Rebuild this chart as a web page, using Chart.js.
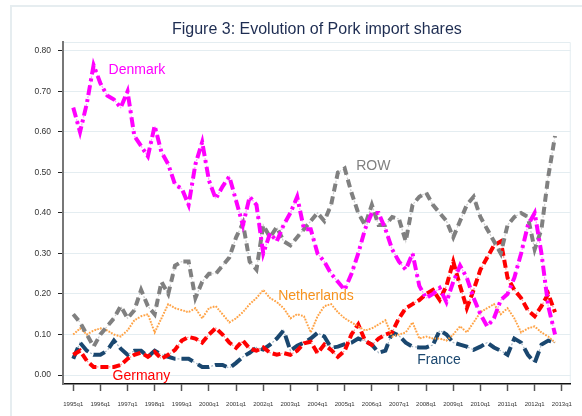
<!DOCTYPE html>
<html>
<head>
<meta charset="utf-8">
<script src="https://cdn.jsdelivr.net/npm/chart.js@4"></script>
<style>
  html, body { margin: 0; padding: 0; background: #ffffff; }
  canvas { display: block; }
</style>
</head>
<body>
<canvas id="pork-chart" width="582" height="416"></canvas>
<script>
// Tick labels (one per year, first quarter)
const yearTicks = ['1995q1', '1996q1', '1997q1', '1998q1', '1999q1', '2000q1', '2001q1',
  '2002q1', '2003q1', '2004q1', '2005q1', '2006q1', '2007q1', '2008q1', '2009q1',
  '2010q1', '2011q1', '2012q1', '2013q1'];
const yTicks = [0, 0.1, 0.2, 0.3, 0.4, 0.5, 0.6, 0.7, 0.8];

// Quarterly import shares, 1995q1 .. 2012q4
const denmark = [0.66, 0.60, 0.67, 0.765, 0.72, 0.69, 0.68, 0.66, 0.70, 0.59, 0.565, 0.54,
  0.615, 0.55, 0.52, 0.47, 0.46, 0.42, 0.52, 0.575, 0.48, 0.435, 0.465, 0.49,
  0.43, 0.37, 0.44, 0.42, 0.30, 0.35, 0.33, 0.37, 0.40, 0.44, 0.36, 0.36,
  0.30, 0.28, 0.25, 0.23, 0.21, 0.25, 0.30, 0.36, 0.40, 0.40, 0.36, 0.31,
  0.28, 0.26, 0.30, 0.22, 0.19, 0.20, 0.215, 0.18, 0.23, 0.27, 0.24, 0.19,
  0.15, 0.12, 0.14, 0.185, 0.20, 0.24, 0.30, 0.37, 0.40, 0.30, 0.17, 0.10];
const row = [0.15, 0.13, 0.10, 0.07, 0.10, 0.12, 0.14, 0.17, 0.14, 0.16, 0.21, 0.17,
  0.15, 0.23, 0.20, 0.27, 0.28, 0.28, 0.19, 0.23, 0.25, 0.25, 0.27, 0.29,
  0.34, 0.375, 0.28, 0.26, 0.37, 0.34, 0.365, 0.33, 0.32, 0.34, 0.36, 0.38,
  0.40, 0.38, 0.42, 0.50, 0.51, 0.45, 0.40, 0.37, 0.42, 0.37, 0.37, 0.39,
  0.385, 0.33, 0.42, 0.44, 0.45, 0.42, 0.40, 0.38, 0.34, 0.38, 0.42, 0.44,
  0.39, 0.36, 0.33, 0.30, 0.37, 0.39, 0.40, 0.39, 0.31, 0.36, 0.49, 0.59];
const netherlands = [0.10, 0.115, 0.10, 0.11, 0.115, 0.11, 0.10, 0.095, 0.11, 0.135, 0.145, 0.15,
  0.105, 0.14, 0.175, 0.165, 0.16, 0.155, 0.165, 0.14, 0.165, 0.17, 0.15, 0.13,
  0.14, 0.155, 0.175, 0.19, 0.21, 0.19, 0.18, 0.165, 0.14, 0.15, 0.145, 0.105,
  0.145, 0.17, 0.175, 0.155, 0.14, 0.13, 0.12, 0.11, 0.115, 0.125, 0.135, 0.095,
  0.10, 0.105, 0.13, 0.09, 0.095, 0.09, 0.09, 0.085, 0.10, 0.12, 0.105, 0.13,
  0.155, 0.165, 0.175, 0.15, 0.165, 0.14, 0.105, 0.115, 0.12, 0.105, 0.095, 0.08];
const germany = [0.05, 0.06, 0.035, 0.02, 0.02, 0.02, 0.02, 0.025, 0.04, 0.05, 0.055, 0.045,
  0.057, 0.04, 0.05, 0.062, 0.085, 0.094, 0.09, 0.08, 0.10, 0.116, 0.10, 0.08,
  0.067, 0.085, 0.065, 0.06, 0.068, 0.055, 0.05, 0.054, 0.05, 0.06, 0.078, 0.082,
  0.054, 0.075, 0.062, 0.045, 0.06, 0.10, 0.125, 0.085, 0.074, 0.09, 0.10, 0.106,
  0.14, 0.165, 0.175, 0.185, 0.20, 0.21, 0.185, 0.22, 0.28, 0.22, 0.165, 0.21,
  0.26, 0.29, 0.32, 0.33, 0.24, 0.21, 0.19, 0.16, 0.145, 0.17, 0.20, 0.155];
const france = [0.04, 0.08, 0.06, 0.05, 0.05, 0.06, 0.085, 0.065, 0.05, 0.06, 0.06, 0.045,
  0.06, 0.05, 0.045, 0.04, 0.04, 0.04, 0.03, 0.02, 0.02, 0.025, 0.025, 0.017,
  0.03, 0.045, 0.055, 0.068, 0.063, 0.075, 0.09, 0.11, 0.06, 0.072, 0.08, 0.09,
  0.104, 0.095, 0.067, 0.07, 0.076, 0.08, 0.09, 0.084, 0.075, 0.055, 0.06, 0.105,
  0.097, 0.08, 0.07, 0.068, 0.068, 0.074, 0.11, 0.10, 0.08, 0.075, 0.07, 0.062,
  0.07, 0.08, 0.068, 0.06, 0.05, 0.09, 0.08, 0.05, 0.03, 0.075, 0.085, 0.08];

const series = [
  { name: 'Denmark', values: denmark, color: '#ff00ff', width: 4, dash: [10, 4, 3, 4], at: [5.2, 0.753] },
  { name: 'ROW', values: row, color: '#808080', width: 4, dash: [8, 5], at: [41.7, 0.516] },
  { name: 'Netherlands', values: netherlands, color: '#ffa040', width: 2, dash: [1.5, 1.5], at: [30.2, 0.195], labelColor: '#f7931e' },
  { name: 'Germany', values: germany, color: '#ff0000', width: 4, dash: [8, 4], at: [5.8, -0.002] },
  { name: 'France', values: france, color: '#1a476f', width: 4, dash: [12, 6], at: [50.7, 0.037] }
];

function toPoints(values) {
  return values.map((v, i) => ({ x: i, y: v }));
}

function fade(hex, a) {
  const n = parseInt(hex.slice(1), 16);
  return `rgba(${(n >> 16) & 255}, ${(n >> 8) & 255}, ${n & 255}, ${a})`;
}

const datasets = [];
series.forEach((s, k) => {
  // thick dashes
  datasets.push({
    label: s.name,
    data: toPoints(s.values),
    borderColor: s.color,
    borderWidth: s.width,
    borderDash: s.dash,
    pointRadius: 0,
    tension: 0,
    order: k
  });
  // thin faded line showing through the gaps
  datasets.push({
    label: s.name + ' (thin)',
    data: toPoints(s.values),
    borderColor: fade(s.color, 0.4),
    borderWidth: 1.2,
    borderDash: [2, 2],
    pointRadius: 0,
    tension: 0,
    order: 10 + k
  });
});

// Title, frame and the in-plot series labels
const decorations = {
  id: 'decorations',
  beforeDraw(chart) {
    const { ctx, chartArea: a } = chart;
    ctx.save();
    ctx.strokeStyle = '#e6edf0';
    ctx.lineWidth = 2;
    ctx.strokeRect(11, 6, 700, 600);
    ctx.strokeStyle = '#e4edf1';
    ctx.lineWidth = 1;
    ctx.beginPath();
    ctx.moveTo(a.left, a.top + 0.5);
    ctx.lineTo(a.right - 0.5, a.top + 0.5);
    ctx.lineTo(a.right - 0.5, a.bottom);
    ctx.stroke();
    ctx.restore();
  },
  afterDraw(chart) {
    const { ctx, chartArea: a, scales: { x, y } } = chart;
    ctx.save();
    ctx.fillStyle = '#1e2d52';
    ctx.font = '16px "Liberation Sans", Arial, sans-serif';
    ctx.textAlign = 'center';
    ctx.textBaseline = 'middle';
    ctx.fillText('Figure 3: Evolution of Pork import shares', (a.left + a.right) / 2, 30);

    ctx.font = '14px "Liberation Sans", Arial, sans-serif';
    ctx.textAlign = 'left';
    series.forEach(s => {
      ctx.fillStyle = s.labelColor || s.color;
      ctx.fillText(s.name, x.getPixelForValue(s.at[0]), y.getPixelForValue(s.at[1]));
    });
    ctx.restore();
  }
};

new Chart(document.getElementById('pork-chart').getContext('2d'), {
  type: 'line',
  data: { datasets: datasets },
  options: {
    responsive: false,
    animation: false,
    devicePixelRatio: 1,
    layout: { padding: { top: 42, right: 9, left: 0, bottom: 0 } },
    plugins: {
      legend: { display: false },
      title: { display: false },
      tooltip: { enabled: false }
    },
    scales: {
      x: {
        type: 'linear',
        min: -1.51,
        max: 73.32,
        afterBuildTicks: scale => { scale.ticks = yearTicks.map((_, k) => ({ value: k * 4 })); },
        afterFit: scale => { scale.height = 32; },
        ticks: {
          autoSkip: false,
          maxRotation: 0,
          padding: 10,
          color: '#333333',
          font: { size: 6, family: '"Liberation Sans", Arial, sans-serif' },
          callback: (value, index) => yearTicks[index]
        },
        grid: { drawOnChartArea: false, drawTicks: true, tickLength: 7, tickColor: '#555555', tickWidth: 1.5 },
        border: { color: '#111111', width: 1.5 }
      },
      y: {
        min: -0.0222,
        max: 0.822,
        afterBuildTicks: scale => { scale.ticks = yTicks.map(v => ({ value: v })); },
        afterFit: scale => { scale.width = 63; },
        ticks: {
          padding: 7,
          color: '#333333',
          font: { size: 8.5, family: '"Liberation Sans", Arial, sans-serif' },
          callback: value => value.toFixed(2)
        },
        grid: { color: '#e4edf1', lineWidth: 1, tickLength: 5, tickColor: '#222222', tickWidth: 1 },
        border: { color: '#777777', width: 2 }
      }
    }
  },
  plugins: [decorations]
});
</script>
</body>
</html>
